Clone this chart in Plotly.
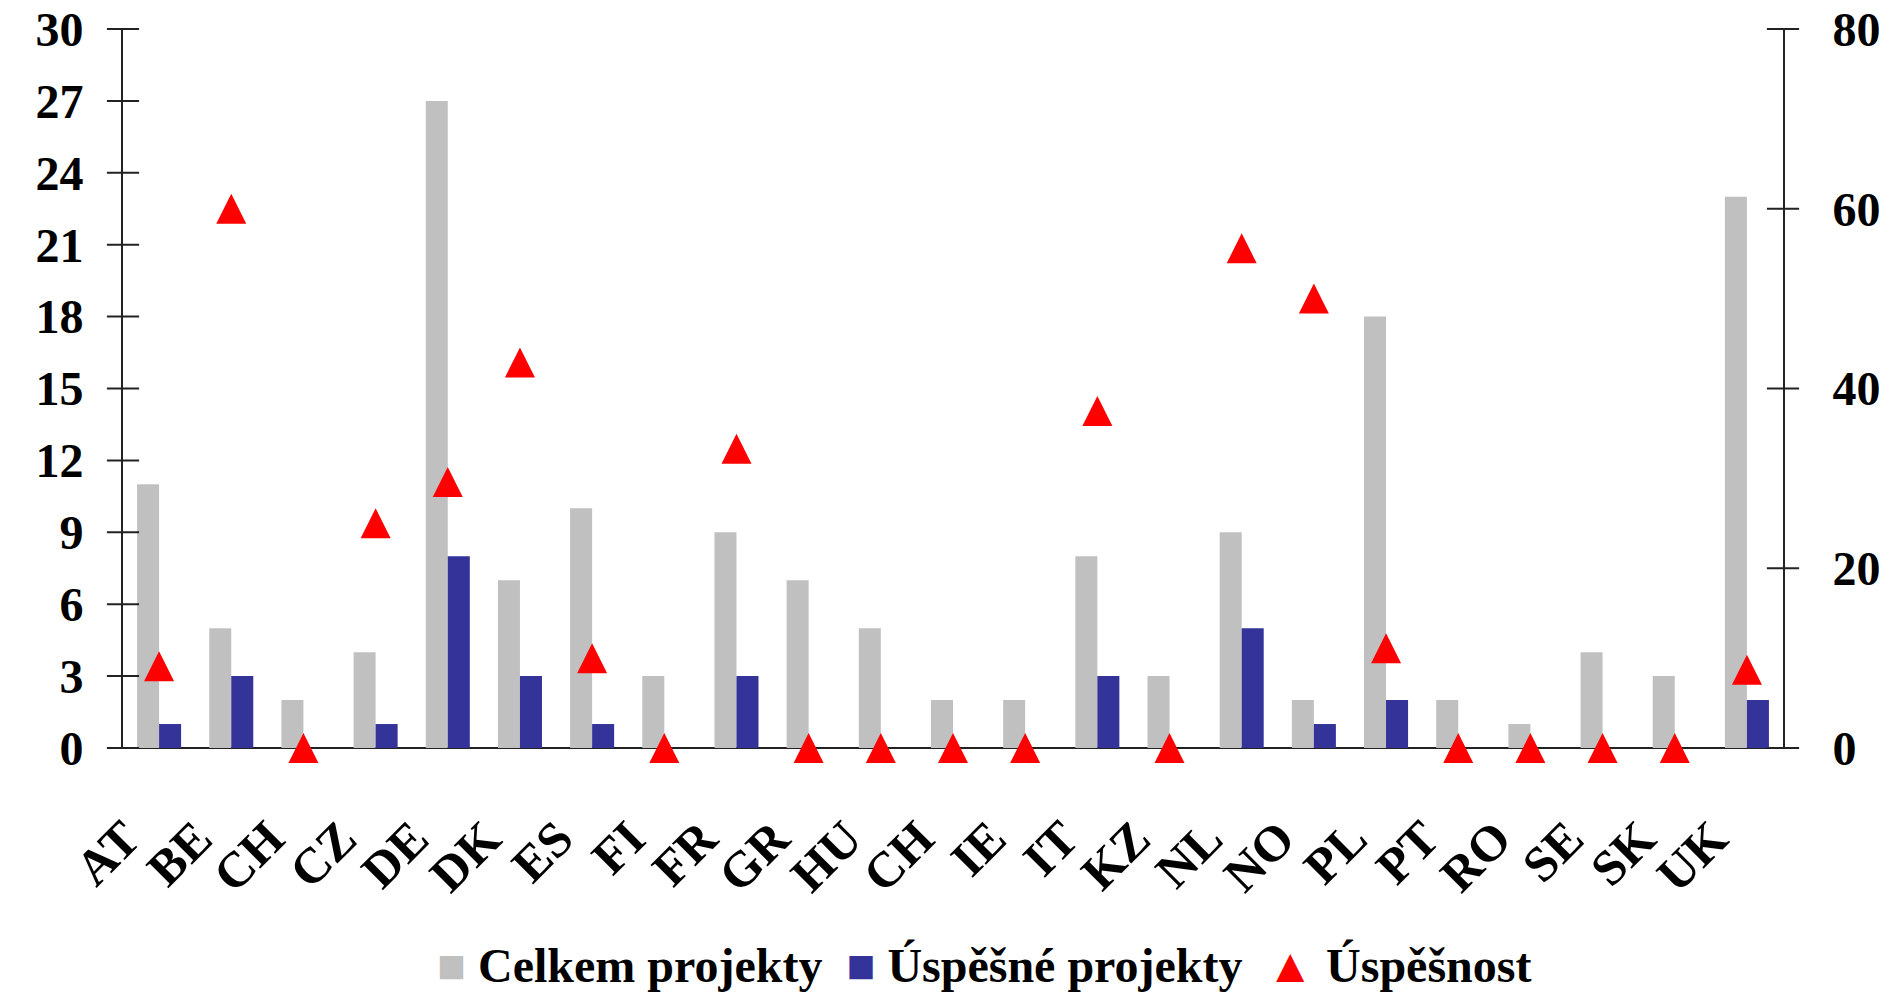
import plotly.graph_objects as go

countries = ["AT", "BE", "CH", "CZ", "DE", "DK", "ES", "FI", "FR", "GR", "HU", "CH",
             "IE", "IT", "KZ", "NL", "NO", "PL", "PT", "RO", "SE", "SK", "UK"]
celkem = [11, 5, 2, 4, 27, 7, 10, 3, 9, 7, 5, 2, 2, 8, 3, 9, 2, 18, 2, 1, 4, 3, 23]
uspesne = [1, 3, 0, 1, 8, 3, 1, 0, 3, 0, 0, 0, 0, 3, 0, 5, 1, 2, 0, 0, 0, 0, 2]
uspesnost = [9.1, 60, 0, 25, 29.6, 42.9, 10, 0, 33.3, 0, 0, 0, 0, 37.5, 0, 55.6, 50,
             11.1, 0, 0, 0, 0, 8.7]
left_ticks = list(range(0, 31, 3))
right_ticks = [0, 20, 40, 60, 80]
series_names = ["Celkem projekty", "Úspěšné projekty", "Úspěšnost"]

xpos = list(range(len(countries)))
xmin, xmax = -0.5, len(countries) - 0.5

FONT = "Liberation Serif"
GRAY = "#C0C0C0"
BLUE = "#333399"
RED = "#FF0000"
AX = "#222222"

fig = go.Figure()
fig.add_trace(go.Bar(x=xpos, y=celkem, name=series_names[0],
                     marker=dict(color=GRAY, line=dict(width=0))))
fig.add_trace(go.Bar(x=xpos, y=uspesne, name=series_names[1],
                     marker=dict(color=BLUE, line=dict(width=0))))
fig.add_trace(go.Scatter(x=xpos, y=uspesnost, name=series_names[2], yaxis="y2",
                         mode="markers", cliponaxis=False,
                         marker=dict(symbol="arrow-down", angle=180, standoff=15,
                                     size=30, color=RED, line=dict(width=0))))

# crossing tick marks on both value axes (centred on the axis lines)
tick_marker = dict(symbol="line-ew", size=23, color=AX, line=dict(color=AX, width=2))
fig.add_trace(go.Scatter(x=[xmin] * len(left_ticks), y=left_ticks, mode="markers",
                         marker=tick_marker, cliponaxis=False, showlegend=False,
                         hoverinfo="skip"))
fig.add_trace(go.Scatter(x=[xmax] * len(right_ticks), y=right_ticks, yaxis="y2",
                         mode="markers", marker=tick_marker, cliponaxis=False,
                         showlegend=False, hoverinfo="skip"))

tickfont = dict(family=FONT, size=48, color="black", weight="bold")

legend_text = (f"<span style='color:{GRAY}'>■</span> {series_names[0]}  "
               f"<span style='color:{BLUE}'>■</span> {series_names[1]}  "
               f"<span style='color:{RED}'>▲</span> {series_names[2]}")

fig.update_layout(
    width=1882, height=998,
    margin=dict(l=123, r=99, t=29, b=250, autoexpand=False),
    paper_bgcolor="white", plot_bgcolor="white",
    barmode="group", bargap=0.39, bargroupgap=0,
    showlegend=False,
    xaxis=dict(range=[xmin, xmax], tickmode="array", tickvals=xpos,
               ticktext=countries, tickangle=-45,
               tickfont=dict(family=FONT, size=50, color="black", weight="bold"),
               showline=False, ticks="", showgrid=False, zeroline=False,
               ticklabelstandoff=50, ticklabelshift=-34, automargin=False),
    yaxis=dict(range=[0, 30], tickmode="array", tickvals=left_ticks, tickfont=tickfont,
               showline=True, linecolor=AX, linewidth=2, ticks="",
               showgrid=False, zeroline=True, zerolinecolor=AX, zerolinewidth=2,
               ticklabelstandoff=28, automargin=False),
    yaxis2=dict(range=[0, 80], overlaying="y", side="right", tickmode="array",
                tickvals=right_ticks, tickfont=tickfont, showline=True, linecolor=AX,
                linewidth=2, ticks="", showgrid=False, zeroline=False,
                ticklabelstandoff=38, automargin=False),
    annotations=[dict(text=legend_text, xref="paper", yref="paper", x=0.5187, y=-0.303,
                      xanchor="center", yanchor="middle", showarrow=False,
                      font=dict(family=FONT, size=48, color="black", weight="bold"))],
)

fig.write_html("out.html")
